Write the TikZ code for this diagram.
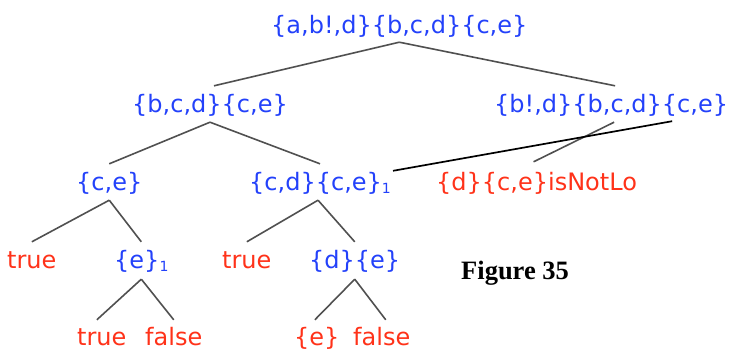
\documentclass[tikz,border=0pt]{standalone}
\usepackage{fontspec}
\setmainfont{DejaVu Sans}
\newfontfamily\figfont{Liberation Serif}
\definecolor{setblue}{RGB}{35,65,250}
\definecolor{setred}{RGB}{255,50,25}
\definecolor{edgegray}{RGB}{80,80,80}
\newcommand{\subone}{\raisebox{-3pt}{\fontsize{14}{14}\selectfont 1}}
\begin{document}
\begin{tikzpicture}[x=1pt,y=-1pt,
  lbl/.style={anchor=base west,inner sep=0pt,text height=18pt,text depth=5pt,font=\fontsize{24}{24}\selectfont},
  bl/.style={lbl,text=setblue},
  rd/.style={lbl,text=setred},
  edge/.style={draw=edgegray,line width=1.6pt},
  cross/.style={draw=black,line width=1.7pt}]
\useasboundingbox (0,0) rectangle (729,354);
% nodes
\node[bl] (root) at (271,33) {\{a,b!,d\}\{b,c,d\}\{c,e\}};
\node[bl] (l) at (132,112) {\{b,c,d\}\{c,e\}};
\node[bl] (r) at (494,112) {\{b!,d\}\{b,c,d\}\{c,e\}};
\node[bl] (ll) at (76,190) {\{c,e\}};
\node[bl] (lr) at (249,190) {\{c,d\}\{c,e\}\subone};
\node[rd] (rl) at (436,190) {\{d\}\{c,e\}isNotLo};
\node[rd] (t1) at (7,268) {true};
\node[bl] (e1) at (114,268) {\{e\}\subone};
\node[rd] (t2) at (222,268) {true};
\node[bl] (de) at (309,268) {\{d\}\{e\}};
\node[rd] (t3) at (77,345) {true};
\node[rd] (f1) at (145,345) {false};
\node[rd] (ee) at (294,345) {\{e\}};
\node[rd] (f2) at (353,345) {false};
\node[anchor=base west,inner sep=0pt,font=\figfont\bfseries\fontsize{26.5}{26.5}\selectfont] (fig) at (461,279) {Figure 35};
% connectors
\draw[edge] ([yshift=-4pt]root.south) -- ([yshift=8pt,xshift=4pt]l.north);
\draw[edge] ([yshift=-4pt]root.south) -- ([yshift=8pt,xshift=4pt]r.north);
\draw[edge] ([yshift=-5pt]l.south) -- ([yshift=8pt]ll.north);
\draw[edge] ([yshift=-5pt]l.south) -- ([yshift=8pt]lr.north);
\draw[edge] ([yshift=-5pt]ll.south) -- ([yshift=8pt]t1.north);
\draw[edge] ([yshift=-5pt]ll.south) -- ([yshift=8pt]e1.north);
\draw[edge] ([yshift=-5pt,xshift=-2pt]lr.south) -- ([yshift=8pt]t2.north);
\draw[edge] ([yshift=-5pt,xshift=-2pt]lr.south) -- ([yshift=8pt]de.north);
\draw[edge] ([yshift=-6pt]e1.south) -- ([yshift=7pt,xshift=-5pt]t3.north);
\draw[edge] ([yshift=-6pt]e1.south) -- ([yshift=7pt,xshift=0pt]f1.north);
\draw[edge] ([yshift=-6pt]de.south) -- ([yshift=7pt,xshift=-2pt]ee.north);
\draw[edge] ([yshift=-6pt]de.south) -- ([yshift=7pt,xshift=4pt]f2.north);
\draw[edge] ([yshift=-5pt,xshift=3pt]r.south) -- ([yshift=10pt,xshift=-3pt]rl.north);
\draw[cross] ([yshift=-4pt,xshift=61pt]r.south) -- ([yshift=1pt,xshift=2pt]lr.north east);
\end{tikzpicture}
\end{document}
